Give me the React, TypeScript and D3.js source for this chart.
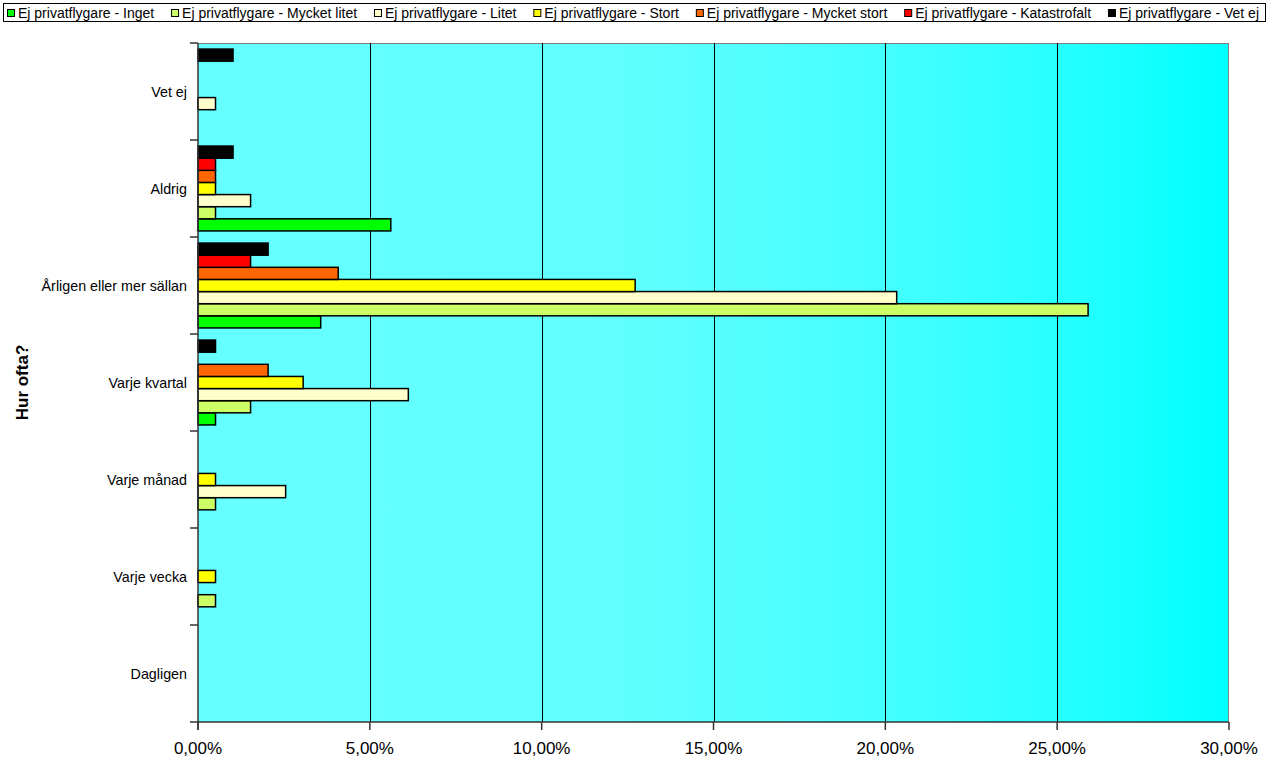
import React, { useMemo } from "react";
import * as d3 from "d3";

const categories = ["Vet ej", "Aldrig", "Årligen eller mer sällan", "Varje kvartal", "Varje månad", "Varje vecka", "Dagligen"];
const seriesNames = [
  "Ej privatflygare - Inget",
  "Ej privatflygare - Mycket litet",
  "Ej privatflygare - Litet",
  "Ej privatflygare - Stort",
  "Ej privatflygare - Mycket stort",
  "Ej privatflygare - Katastrofalt",
  "Ej privatflygare - Vet ej",
];
const seriesColors = ["#00FF00", "#CCFF66", "#FFFFCC", "#FFFF00", "#FF6600", "#FF0000", "#000000"];
// values in percent, one per category (same order as categories)
const inget = [0, 5.61, 3.57, 0.51, 0, 0, 0];
const mycketLitet = [0, 0.51, 25.9, 1.53, 0.51, 0.51, 0];
const litet = [0.51, 1.53, 20.33, 6.12, 2.55, 0, 0];
const stort = [0, 0.51, 12.72, 3.06, 0.51, 0.51, 0];
const mycketStort = [0, 0.51, 4.08, 2.04, 0, 0, 0];
const katastrofalt = [0, 0.51, 1.53, 0, 0, 0, 0];
const vetEj = [1.02, 1.02, 2.04, 0.51, 0, 0, 0];
const seriesValues = [inget, mycketLitet, litet, stort, mycketStort, katastrofalt, vetEj];
const xTicks = [0, 5, 10, 15, 20, 25, 30];
const axisTitle = "Hur ofta?";

const FONT = "'Liberation Sans', Arial, sans-serif";

export default function App() {
  const W = 1273, H = 761;
  const left = 198, right = 1229, top = 43, bottom = 722;

  const x = d3.scaleLinear().domain([0, 30]).range([left, right]);
  const y = d3.scaleBand<string>().domain(categories).range([top, bottom]).paddingInner(0).paddingOuter(0);
  const inner = d3
    .scaleBand<string>()
    .domain([...seriesNames].reverse())
    .range([0, y.bandwidth()])
    .paddingInner(0)
    .paddingOuter(0.5);

  const legendFont = 14;
  const legendLayout = useMemo(() => {
    const canvas = document.createElement("canvas");
    const ctx = canvas.getContext("2d")!;
    ctx.font = `${legendFont}px 'Liberation Sans', Arial, sans-serif`;
    const widths = seriesNames.map((s) => ctx.measureText(s).width);
    const startX = 7, endX = 1259;
    const sw = 11;
    const total = widths.reduce((a, b) => a + b + sw, 0);
    const gap = (endX - startX - total) / (seriesNames.length - 1);
    let cx = startX;
    return widths.map((w) => {
      const pos = cx;
      cx += sw + w + gap;
      return pos;
    });
  }, []);

  const fmt = (v: number) => v.toFixed(2).replace(".", ",") + "%";

  return (
    <svg width={W} height={H} style={{ position: "absolute", left: 0, top: 0, background: "#fff" }} fontFamily={FONT}>
      <defs>
        <linearGradient id="bg" x1="0" x2="1" y1="0" y2="0">
          <stop offset="0" stopColor="#66FFFF" />
          <stop offset="0.4" stopColor="#62FFFF" />
          <stop offset="0.7" stopColor="#40FFFF" />
          <stop offset="0.85" stopColor="#24FFFF" />
          <stop offset="1" stopColor="#00FFFF" />
        </linearGradient>
      </defs>

      {/* Legend */}
      <rect x={3.5} y={3.5} width={1262} height={18} fill="#fff" stroke="#000" strokeWidth={1} />
      {seriesNames.map((s, i) => (
        <g key={s}>
          <rect x={legendLayout[i] + 0.5} y={9.5} width={7} height={7} fill={seriesColors[i]} stroke="#000" strokeWidth={1} />
          <text x={legendLayout[i] + 11} y={17.5} fontSize={legendFont} fill="#000">
            {s}
          </text>
        </g>
      ))}

      {/* Plot area */}
      <rect x={left} y={top} width={right - left} height={bottom - top} fill="url(#bg)" />
      <line x1={left} x2={right} y1={top + 0.5} y2={top + 0.5} stroke="#808080" />
      <line x1={right - 0.5} x2={right - 0.5} y1={top} y2={bottom} stroke="#808080" />
      {xTicks.slice(1, -1).map((t) => (
        <line key={t} x1={Math.round(x(t)) + 0.5} x2={Math.round(x(t)) + 0.5} y1={top} y2={bottom} stroke="#000" strokeWidth={1} />
      ))}

      {/* Bars */}
      {categories.map((c, ci) =>
        seriesNames.map((s, si) => {
          const v = seriesValues[si][ci];
          if (!v) return null;
          const yy = (y(c) as number) + (inner(s) as number);
          return (
            <rect
              key={c + s}
              x={x(0)}
              y={yy}
              width={x(v) - x(0)}
              height={inner.bandwidth()}
              fill={seriesColors[si]}
              stroke="#000"
              strokeWidth={1.5}
            />
          );
        })
      )}

      {/* Axes */}
      <line x1={left} x2={left} y1={top} y2={bottom + 8} stroke="#333" strokeWidth={1.5} />
      <line x1={left - 8} x2={right} y1={bottom} y2={bottom} stroke="#333" strokeWidth={1.5} />
      {categories.map((c) => (
        <line key={c} x1={left - 8} x2={left} y1={y(c)} y2={y(c)} stroke="#333" strokeWidth={1.5} />
      ))}
      {xTicks.map((t) => (
        <g key={t}>
          <line x1={x(t)} x2={x(t)} y1={bottom} y2={bottom + 8} stroke="#333" strokeWidth={1.5} />
          <text x={x(t)} y={754} fontSize={17} textAnchor="middle" fill="#000">
            {fmt(t)}
          </text>
        </g>
      ))}
      {categories.map((c) => (
        <text
          key={c}
          x={187}
          y={(y(c) as number) + y.bandwidth() / 2}
          dy="0.35em"
          fontSize={14.3}
          textAnchor="end"
          fill="#000"
        >
          {c}
        </text>
      ))}
      <text
        transform={`translate(28,${(top + bottom) / 2}) rotate(-90)`}
        textAnchor="middle"
        fontSize={17}
        fontWeight="bold"
        fill="#000"
      >
        {axisTitle}
      </text>
    </svg>
  );
}
